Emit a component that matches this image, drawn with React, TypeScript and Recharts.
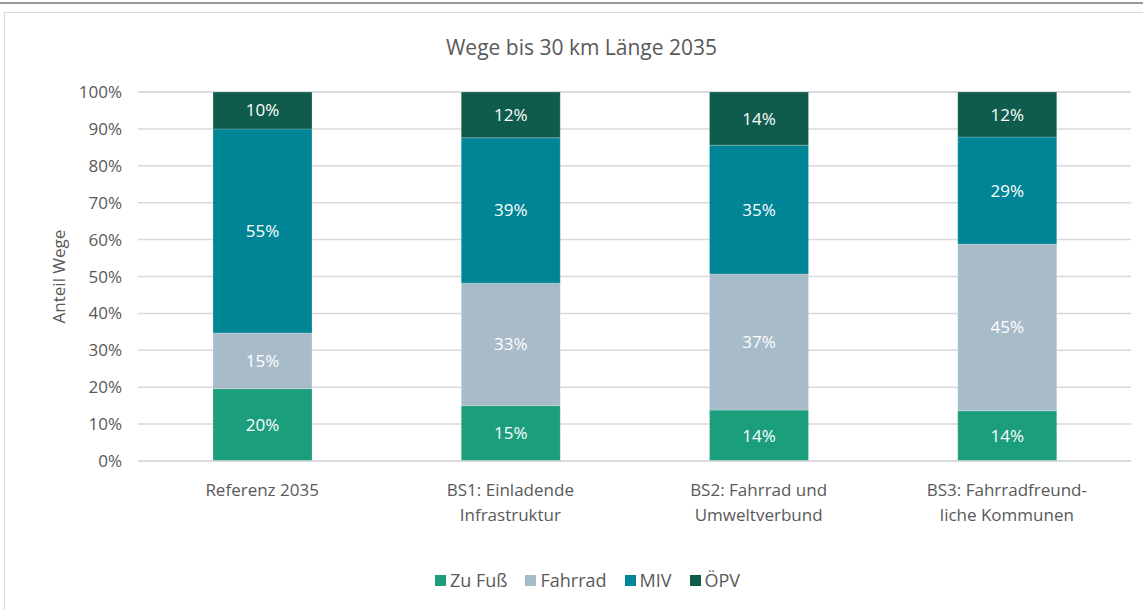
import React from 'react';
import { BarChart, Bar, XAxis, YAxis, CartesianGrid, Legend, LabelList, Label } from 'recharts';

const categories = ['Referenz 2035', 'BS1: Einladende\nInfrastruktur', 'BS2: Fahrrad und\nUmweltverbund', 'BS3: Fahrradfreund-\nliche Kommunen'];
const zuFuss = [19.6, 15.0, 13.8, 13.6];
const fahrrad = [15.1, 33.2, 36.9, 45.2];
const miv = [55.3, 39.4, 34.9, 29.0];
const oepv = [10.0, 12.4, 14.4, 12.2];
const yTicks = [0, 10, 20, 30, 40, 50, 60, 70, 80, 90, 100];

const data = categories.map((name, i) => ({
    name,
    zuFuss: zuFuss[i],
    fahrrad: fahrrad[i],
    miv: miv[i],
    oepv: oepv[i],
}));

const series = [
    { key: 'zuFuss', label: 'Zu Fuß', color: '#1a9e7c' },
    { key: 'fahrrad', label: 'Fahrrad', color: '#a7bbc9' },
    { key: 'miv', label: 'MIV', color: '#008596' },
    { key: 'oepv', label: 'ÖPV', color: '#0f5c4c' },
];

const FONT = '"Open Sans", sans-serif';
const GREY = '#595959';
const TICK_SIZE = 17;

function CategoryTick({ x, y, payload }: any) {
    const lines = String(payload.value).split('\n');
    return (
        <text x={x} y={y} textAnchor="middle" fill={GREY} fontSize={TICK_SIZE} fontFamily={FONT}>
            {lines.map((line, i) => (
                <tspan key={i} x={x} dy={i === 0 ? 27 : 25}>{line}</tspan>
            ))}
        </text>
    );
}

function LegendContent() {
    return (
        <div style={{ display: 'flex', justifyContent: 'center', alignItems: 'center', height: 20, gap: 18, paddingLeft: 44, fontFamily: FONT, fontSize: 18, color: GREY }}>
            {series.map((s) => (
                <span key={s.key} style={{ display: 'flex', alignItems: 'center' }}>
                    <span style={{ display: 'inline-block', width: 11, height: 11, background: s.color, marginRight: 4 }} />
                    {s.label}
                </span>
            ))}
        </div>
    );
}

export default function App() {
    return (
        <div style={{ position: 'fixed', left: 0, top: 0, width: 1143, height: 610, background: '#fff', overflow: 'hidden' }}>
            <div style={{ position: 'absolute', left: 0, top: 2, width: 1143, height: 2, background: '#9a9a9a' }} />
            <div style={{ position: 'absolute', left: 4, top: 12, width: 1150, height: 620, border: '1px solid #d9d9d9' }} />
            <div style={{ position: 'absolute', left: 10, top: 33, width: 1143, textAlign: 'center', fontFamily: FONT, fontSize: 21, color: GREY }}>
                Wege bis 30 km Länge 2035
            </div>
            <div style={{ position: 'absolute', left: 0, top: 0 }}>
                <BarChart width={1143} height={610} data={data} margin={{ top: 92, right: 12, bottom: 100, left: 0 }} barSize={99}>
                    <CartesianGrid vertical={false} stroke="#d9d9d9" strokeWidth={1.5} />
                    <XAxis dataKey="name" axisLine={{ stroke: '#d9d9d9', strokeWidth: 1.5 }} tickLine={false} tick={<CategoryTick />} interval={0} height={29} />
                    <YAxis
                        width={138}
                        domain={[0, 100]}
                        ticks={yTicks}
                        axisLine={false}
                        tickLine={false}
                        tickMargin={10}
                        tickFormatter={(v: number) => `${v}%`}
                        tick={{ fill: GREY, fontSize: TICK_SIZE, fontFamily: FONT }}
                    >
                        <Label value="Anteil Wege" angle={-90} position="center" dx={-10} style={{ fill: GREY, fontSize: TICK_SIZE, fontFamily: FONT }} />
                    </YAxis>
                    <Legend verticalAlign="bottom" align="center" content={<LegendContent />} wrapperStyle={{ bottom: 20, height: 20 }} />
                    {series.map((s) => (
                        <Bar key={s.key} dataKey={s.key} name={s.label} stackId="a" fill={s.color} stroke="#ffffff" strokeOpacity={0.35} strokeWidth={0.6} isAnimationActive={false}>
                            <LabelList
                                dataKey={s.key}
                                position="center"
                                formatter={(v: number) => `${Math.round(v)}%`}
                                style={{ fill: '#ffffff', fontSize: 17, fontFamily: FONT }}
                            />
                        </Bar>
                    ))}
                </BarChart>
            </div>
        </div>
    );
}
